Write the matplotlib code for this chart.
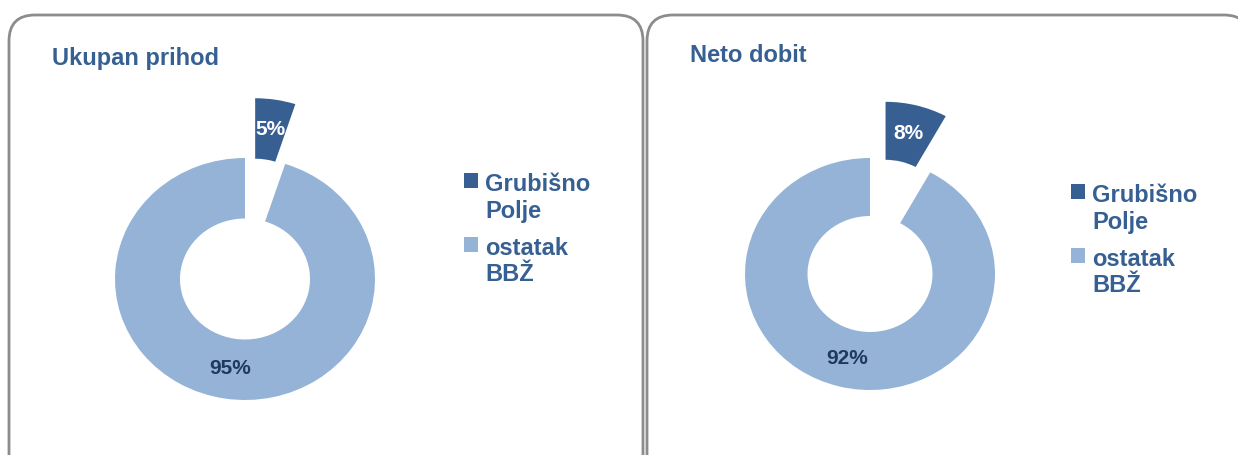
import matplotlib.pyplot as plt
from matplotlib.patches import FancyBboxPatch

plt.rcParams["font.family"] = ["Liberation Sans", "DejaVu Sans"]

LABELS = ["Grubišno\nPolje", "ostatak\nBBŽ"]
TITLES = ["Ukupan prihod", "Neto dobit"]
SHARES = [
    [5, 95],   # Ukupan prihod
    [8, 92],   # Neto dobit
]

COLORS = ["#375F92", "#95B3D7"]
TEXT_COLOR = "#376092"
DARK_TEXT = "#1F3A5F"
EDGE = "#8C8C8C"

W, H = 1238, 455

# panel layout in pixels (top-left origin)
PANELS = [
    dict(box=(9, 15, 634, 480), title=(52, 58), center=(245, 279), r=(130, 121), legend=(464, 173)),
    dict(box=(647, 15, 603, 480), title=(690, 56), center=(870, 274), r=(125, 116), legend=(1071, 184)),
]


def px_axes(fig, cx, cy, rx, ry, s=1.6):
    """Axes centred on (cx, cy) px where unit radius maps to rx/ry px."""
    w, h = 2 * rx * s, 2 * ry * s
    ax = fig.add_axes([(cx - w / 2) / W, 1 - (cy + h / 2) / H, w / W, h / H])
    return ax, s


fig = plt.figure(figsize=(W / 100, H / 100), dpi=100)
bg = fig.add_axes([0, 0, 1, 1])
bg.set_xlim(0, W)
bg.set_ylim(H, 0)
bg.axis("off")

for panel, title, shares in zip(PANELS, TITLES, SHARES):
    x, y, bw, bh = panel["box"]
    bg.add_patch(FancyBboxPatch((x, y), bw, bh, boxstyle="round,pad=0,rounding_size=26",
                                facecolor="white", edgecolor=EDGE, linewidth=2))
    bg.text(*panel["title"], title, color=TEXT_COLOR, fontsize=17, fontweight="bold",
            ha="left", va="center")

    ax, s = px_axes(fig, *panel["center"], *panel["r"])
    wedges, _, autotexts = ax.pie(
        shares, colors=COLORS, startangle=90, counterclock=False,
        explode=[0.5, 0], autopct="%1.0f%%", pctdistance=0.75,
        wedgeprops=dict(width=0.5, linewidth=0),
        textprops=dict(fontsize=15, fontweight="bold"),
    )
    autotexts[0].set_color("white")
    autotexts[1].set_color(DARK_TEXT)
    ax.set_xlim(-s, s)
    ax.set_ylim(-s, s)
    ax.set_aspect("auto")
    ax.axis("off")

    lx, ly = panel["legend"]
    leg = ax.legend(wedges, LABELS, loc="upper left", bbox_to_anchor=(lx / W, 1 - ly / H),
                    bbox_transform=fig.transFigure, frameon=False, labelcolor=TEXT_COLOR,
                    prop=dict(size=17, weight="bold"), handlelength=0.6, handleheight=0.6,
                    handletextpad=0.3, labelspacing=0.6, borderpad=0, borderaxespad=0)
    # put the square next to the first line of each label, like the original
    for column in leg._legend_handle_box.get_children():
        for item in column.get_children():
            item.align = "top"

fig.savefig("out.png", dpi=100)
